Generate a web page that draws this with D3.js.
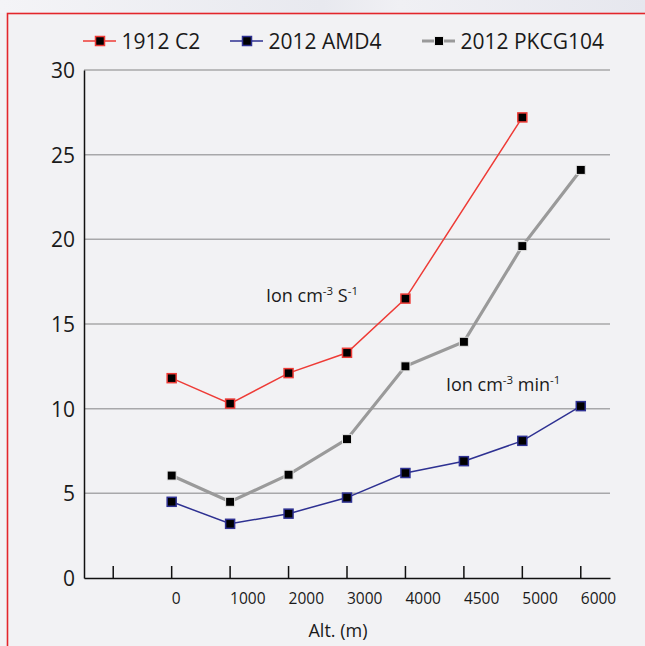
<!DOCTYPE html>
<html>
<head>
<meta charset="utf-8">
<script src="https://cdn.jsdelivr.net/npm/d3@7/dist/d3.min.js"></script>
<style>
  html, body { margin: 0; padding: 0; background: #f2f2f4; }
  svg { display: block; font-family: "Open Sans", "Noto Sans", sans-serif; }
</style>
</head>
<body>
<svg id="chart" width="645" height="646"></svg>
<script>
// ---- data ----
const categories = ["", "0", "1000", "2000", "3000", "4000", "4500", "5000", "6000"];
const yTicks = [0, 5, 10, 15, 20, 25, 30];
const seriesNames = ["1912 C2", "2012 AMD4", "2012 PKCG104"];
const red1912 = [null, 11.8, 10.3, 12.1, 13.3, 16.5, null, 27.2, null];
const blueAMD4 = [null, 4.5, 3.2, 3.8, 4.75, 6.2, 6.9, 8.1, 10.15];
const grayPKCG = [null, 6.05, 4.5, 6.1, 8.2, 12.5, 13.95, 19.6, 24.1];
const xTitle = "Alt. (m)";

const svg = d3.select("#chart");
const W = 645, H = 646;

// background
const defs = svg.append("defs");
const grad = defs.append("linearGradient").attr("id", "topg").attr("x1", "0").attr("x2", "1").attr("y1", "0").attr("y2", "0");
grad.append("stop").attr("offset", "0").attr("stop-color", "#f4f4f7");
grad.append("stop").attr("offset", "0.5").attr("stop-color", "#e8e9ef");
grad.append("stop").attr("offset", "0.62").attr("stop-color", "#f0f0f4");
grad.append("stop").attr("offset", "1").attr("stop-color", "#e6e7ee");
svg.append("rect").attr("x", 0).attr("y", 0).attr("width", W).attr("height", H).attr("fill", "#f2f2f4");
svg.append("rect").attr("x", 0).attr("y", 0).attr("width", W).attr("height", 13).attr("fill", "url(#topg)");
svg.append("rect").attr("x", 7.5).attr("y", 13.5).attr("width", W + 10).attr("height", H + 10)
  .attr("fill", "#f2f2f4").attr("stroke", "#e3262b").attr("stroke-width", 1.6);

// scales
const x = d3.scaleBand().domain(categories).range([84, 610]).padding(0);
const y = d3.scaleLinear().domain([0, 30]).range([578, 70]);
const cx = c => x(c) + x.bandwidth() / 2;

// gridlines
svg.append("g").selectAll("line").data(yTicks.filter(d => d > 0)).join("line")
  .attr("x1", 84).attr("x2", 610)
  .attr("y1", d => y(d)).attr("y2", d => y(d))
  .attr("stroke", "#a8a8aa").attr("stroke-width", 1.5);

// y axis
const yAxis = d3.axisLeft(y).tickValues(yTicks).tickSize(0).tickPadding(9);
const gy = svg.append("g").attr("transform", "translate(84,0)").call(yAxis);
gy.select(".domain").attr("stroke", "#111").attr("stroke-width", 1.5);
gy.selectAll("text").attr("font-size", 21).attr("fill", "#1a1a1a")
  .attr("font-family", "'Open Sans', sans-serif").attr("dy", "0.36em");

// x axis
const xAxis = d3.axisBottom(x).tickSize(0).tickSizeOuter(0);
const gx = svg.append("g").attr("transform", "translate(0,578)").call(xAxis);
gx.select(".domain").attr("stroke", "#111").attr("stroke-width", 1.5);
gx.selectAll(".tick line").attr("y2", -12).attr("stroke", "#111").attr("stroke-width", 1.5);
gx.selectAll(".tick text").attr("font-size", 15.5).attr("fill", "#1a1a1a")
  .attr("font-family", "'Open Sans', sans-serif")
  .attr("text-anchor", "start").attr("x", 0).attr("y", 26).attr("dy", 0);

svg.append("text").attr("x", 338).attr("y", 637).attr("text-anchor", "middle")
  .attr("font-size", 18).attr("fill", "#1a1a1a").text(xTitle);

// series
const series = [
  { name: seriesNames[0], values: red1912, color: "#ee3b36", width: 1.5, mstroke: "#ee3b36", mw: 1.5 },
  { name: seriesNames[1], values: blueAMD4, color: "#2e3192", width: 1.5, mstroke: "#2e3192", mw: 1.5 },
  { name: seriesNames[2], values: grayPKCG, color: "#9a9a9a", width: 3.2, mstroke: "#e6e6e6", mw: 1 }
];

const line = d3.line().x(d => cx(d.c)).y(d => y(d.v));
series.forEach(s => {
  const pts = categories.map((c, i) => ({ c, v: s.values[i] })).filter(d => d.v != null);
  svg.append("path").datum(pts).attr("d", line).attr("fill", "none")
    .attr("stroke", s.color).attr("stroke-width", s.width);
  s.pts = pts;
});
series.forEach(s => {
  svg.append("g").selectAll("rect").data(s.pts).join("rect")
    .attr("x", d => cx(d.c) - 4.5).attr("y", d => y(d.v) - 4.5)
    .attr("width", 9).attr("height", 9)
    .attr("fill", "#000").attr("stroke", s.mstroke).attr("stroke-width", s.mw);
});

// legend
const legendX = [83, 230, 422];
series.forEach((s, i) => {
  const g = svg.append("g").attr("transform", `translate(${legendX[i]},41)`);
  g.append("line").attr("x1", 0).attr("x2", 33).attr("y1", 0).attr("y2", 0)
    .attr("stroke", s.color).attr("stroke-width", i === 2 ? 3 : 1.5);
  g.append("rect").attr("x", 12.5).attr("y", -4.5).attr("width", 9).attr("height", 9)
    .attr("fill", "#000").attr("stroke", s.mstroke).attr("stroke-width", s.mw);
  g.append("text").attr("x", 38.5).attr("y", 7.5).attr("font-size", 21)
    .attr("fill", "#1a1a1a").text(s.name);
});

// annotations
function unitLabel(xp, yp, parts) {
  const t = svg.append("text").attr("x", xp).attr("y", yp).attr("font-size", 18).attr("fill", "#1a1a1a");
  parts.forEach(p => {
    if (p.sup) {
      t.append("tspan").attr("font-size", 11.5).attr("dy", -7).text(p.t);
      t.append("tspan").attr("font-size", 18).attr("dy", 7).text(p.after || "");
    } else {
      t.append("tspan").text(p.t);
    }
  });
}
unitLabel(266, 302, [{ t: "Ion cm" }, { t: "-3", sup: true, after: " S" }, { t: "-1", sup: true }]);
unitLabel(446, 391, [{ t: "Ion cm" }, { t: "-3", sup: true, after: " min" }, { t: "-1", sup: true }]);
</script>
</body>
</html>
